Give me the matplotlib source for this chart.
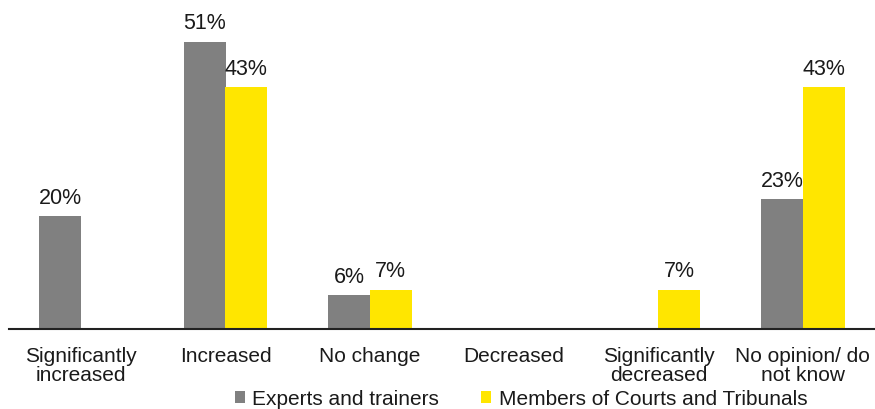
import matplotlib
matplotlib.use("Agg")
from matplotlib import pyplot as plt
import numpy as np

plt.rcParams['font.family'] = ['Liberation Sans', 'DejaVu Sans']

categories = ["Significantly\nincreased", "Increased", "No change",
              "Decreased", "Significantly\ndecreased", "No opinion/ do\nnot know"]
experts = [20, 51, 6, 0, 0, 23]
members = [0, 43, 7, 0, 7, 43]
series_names = ["Experts and trainers", "Members of Courts and Tribunals"]

grey = "#808080"
yellow = "#FFE600"
txt = "#1a1a1a"

fig = plt.figure(figsize=(8.75, 4.1), dpi=100)
ax = fig.add_axes([9 / 875, 80 / 410, 866 / 875, 330 / 410])

x = np.arange(len(categories))
w = 0.29
b1 = ax.bar(x - w / 2, experts, w, color=grey, label=series_names[0])
b2 = ax.bar(x + w / 2, members, w, color=yellow, label=series_names[1])

for bars, vals in ((b1, experts), (b2, members)):
    for bar, v in zip(bars, vals):
        if v > 0:
            ax.annotate(f"{v}%", (bar.get_x() + bar.get_width() / 2, v),
                        xytext=(0, 6), textcoords="offset points",
                        ha="center", va="bottom", fontsize=15.5, color=txt)

ax.set_xlim(-0.5, len(categories) - 0.5)
ax.set_ylim(0, 58.6)
ax.set_xticks(x)
ax.set_xticklabels(categories, fontsize=15, color=txt, linespacing=1.0)
ax.tick_params(axis="x", length=0, pad=12)
ax.set_yticks([])
for s in ("top", "right", "left"):
    ax.spines[s].set_visible(False)
ax.spines["bottom"].set_linewidth(1.5)
ax.spines["bottom"].set_color("#222222")

leg = fig.legend(handles=[b1, b2], loc="center", bbox_to_anchor=(521 / 875, 10 / 410),
                 ncol=2, frameon=False, fontsize=15, handlelength=0.5,
                 handleheight=0.5, handletextpad=0.35, columnspacing=2.0,
                 borderaxespad=0, borderpad=0)
for t in leg.get_texts():
    t.set_color(txt)

fig.savefig("out.png", dpi=100)
